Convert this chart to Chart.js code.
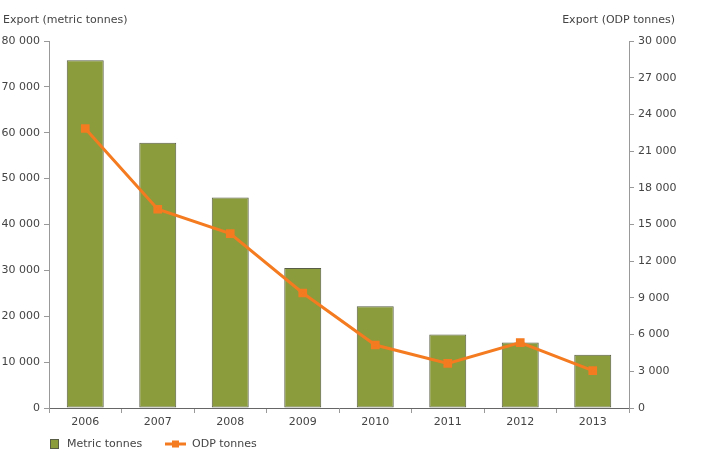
<!DOCTYPE html>
<html>
<head>
<meta charset="utf-8">
<script src="https://cdn.jsdelivr.net/npm/chart.js@4.4.1/dist/chart.umd.min.js"></script>
<style>
  html, body { margin: 0; padding: 0; background: #fff; }
  #wrap { width: 701px; height: 453px; position: relative; }
</style>
</head>
<body>
<div id="wrap"><canvas id="exportChart" width="701" height="453"></canvas></div>
<script>
// Dados do gráfico
const years = ["2006", "2007", "2008", "2009", "2010", "2011", "2012", "2013"];
const metricTonnes = [75800, 57800, 45900, 30500, 22200, 16000, 14300, 11600];
const odpTonnes = [22850, 16250, 14250, 9400, 5150, 3650, 5350, 3050];
const leftTicks = [0, 10000, 20000, 30000, 40000, 50000, 60000, 70000, 80000];
const rightTicks = [0, 3000, 6000, 9000, 12000, 15000, 18000, 21000, 24000, 27000, 30000];

const textColor = "#444";
const axisColor = "#999";
const fontFamily = "'DejaVu Sans', Verdana, sans-serif";

function formatNumber(v) {
  return String(v).replace(/\B(?=(\d{3})+(?!\d))/g, " ");
}

// Titulos dos eixos e legenda desenhados à mão
const extrasPlugin = {
  id: "extras",
  afterDraw(chart) {
    const ctx = chart.ctx;
    ctx.save();
    ctx.font = "11px " + fontFamily;
    ctx.fillStyle = textColor;
    ctx.textBaseline = "middle";
    ctx.textAlign = "left";
    ctx.fillText("Export (metric tonnes)", 3, 20);
    ctx.textAlign = "right";
    ctx.fillText("Export (ODP tonnes)", 675, 20);

    // legenda
    const bar = chart.data.datasets[0];
    const line = chart.data.datasets[1];
    const ly = 444;
    ctx.fillStyle = bar.backgroundColor;
    ctx.strokeStyle = bar.borderColor;
    ctx.lineWidth = 1;
    ctx.fillRect(50, ly - 5, 9, 10);
    ctx.strokeRect(50.5, ly - 4.5, 8, 9);
    ctx.fillStyle = textColor;
    ctx.textAlign = "left";
    ctx.fillText("Metric tonnes", 67, ly);

    ctx.strokeStyle = line.borderColor;
    ctx.lineWidth = 3;
    ctx.beginPath();
    ctx.moveTo(165, ly);
    ctx.lineTo(186, ly);
    ctx.stroke();
    ctx.fillStyle = line.borderColor;
    ctx.fillRect(172, ly - 3.5, 7, 7);
    ctx.fillStyle = textColor;
    ctx.fillText("ODP tonnes", 192, ly);
    ctx.restore();
  }
};

new Chart(document.getElementById("exportChart"), {
  data: {
    labels: years,
    datasets: [
      {
        type: "bar",
        label: "Metric tonnes",
        data: metricTonnes,
        yAxisID: "yLeft",
        backgroundColor: "#8a9c3c",
        borderColor: "#585e45",
        borderWidth: 1,
        borderSkipped: false,
        barPercentage: 0.51,
        categoryPercentage: 1,
        order: 2
      },
      {
        type: "line",
        label: "ODP tonnes",
        data: odpTonnes,
        yAxisID: "yRight",
        borderColor: "#f47b20",
        backgroundColor: "#f47b20",
        borderWidth: 3,
        pointStyle: "rect",
        pointRadius: 4,
        tension: 0,
        order: 1
      }
    ]
  },
  options: {
    responsive: false,
    animation: false,
    layout: { padding: { left: 0, right: 0, top: 41, bottom: 25 } },
    plugins: { legend: { display: false }, tooltip: { enabled: false } },
    scales: {
      x: {
        offset: true,
        grid: { offset: true, drawOnChartArea: false, color: axisColor, tickLength: 5 },
        border: { color: "#666" },
        ticks: { color: textColor, font: { family: fontFamily, size: 11 }, padding: 3 },
        afterFit(scale) { scale.height = 20; }
      },
      yLeft: {
        position: "left",
        min: 0,
        max: 80000,
        afterBuildTicks(scale) { scale.ticks = leftTicks.map(v => ({ value: v })); },
        grid: { drawOnChartArea: false, color: axisColor, tickLength: 5 },
        border: { color: axisColor },
        ticks: {
          color: textColor,
          font: { family: fontFamily, size: 11 },
          padding: 4,
          callback: v => formatNumber(v)
        },
        afterFit(scale) { scale.width = 49; }
      },
      yRight: {
        position: "right",
        min: 0,
        max: 30000,
        afterBuildTicks(scale) { scale.ticks = rightTicks.map(v => ({ value: v })); },
        grid: { drawOnChartArea: false, color: axisColor, tickLength: 5 },
        border: { color: axisColor },
        ticks: {
          color: textColor,
          font: { family: fontFamily, size: 11 },
          padding: 4,
          callback: v => formatNumber(v)
        },
        afterFit(scale) { scale.width = 72; }
      }
    }
  },
  plugins: [extrasPlugin]
});
</script>
</body>
</html>
